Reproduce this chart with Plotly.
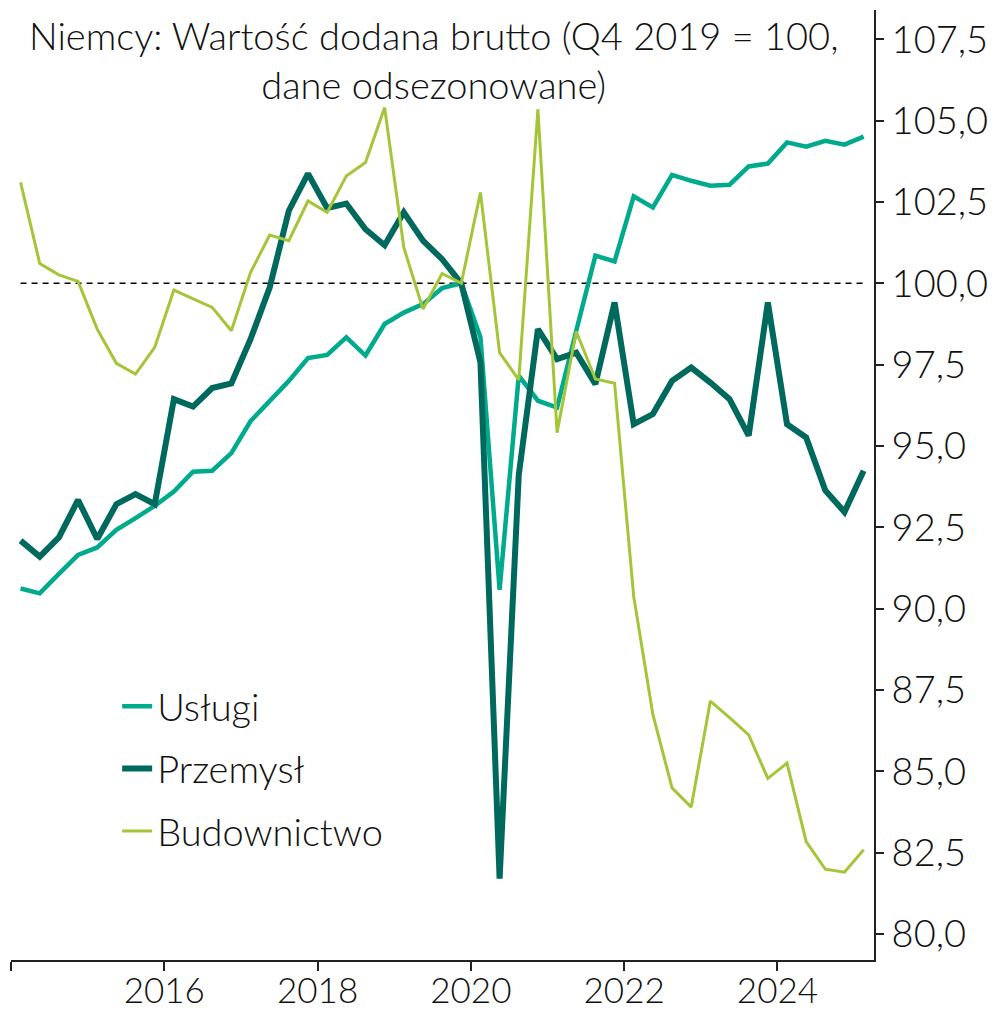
import plotly.graph_objects as go

quarters = [f"{y}Q{q}" for y in range(2014, 2026) for q in range(1, 5)][:45]

uslugi = [90.62, 90.47, 91.07, 91.65, 91.88, 92.42, 92.78, 93.16, 93.60, 94.21, 94.24, 94.78,
          95.76, 96.39, 97.00, 97.70, 97.80, 98.34, 97.78, 98.75, 99.10, 99.36, 99.85, 100.0,
          98.34, 90.58, 97.16, 96.39, 96.18, 98.54, 100.85, 100.67, 102.67, 102.33, 103.33, 103.15,
          103.0, 103.03, 103.59, 103.68, 104.33, 104.20, 104.38, 104.26, 104.51]

przemysl = [92.09, 91.60, 92.19, 93.34, 92.14, 93.21, 93.52, 93.21, 96.44, 96.21, 96.78, 96.92,
            98.28, 99.87, 102.23, 103.37, 102.31, 102.45, 101.66, 101.17, 102.18, 101.31, 100.74, 100.0,
            97.57, 81.70, 94.11, 98.59, 97.67, 97.87, 96.90, 99.41, 95.67, 95.98, 97.00, 97.41,
            96.95, 96.44, 95.32, 99.41, 95.67, 95.26, 93.63, 92.97, 94.24]

budownictwo = [103.10, 100.61, 100.26, 100.06, 98.59, 97.54, 97.21, 98.03, 99.79, 99.53, 99.26, 98.54,
               100.33, 101.48, 101.31, 102.53, 102.18, 103.30, 103.71, 105.40, 101.10, 99.21, 100.30, 100.0,
               102.79, 97.87, 97.03, 105.35, 95.41, 98.52, 97.06, 96.93, 90.37, 86.75, 84.49, 83.90,
               87.16, 86.65, 86.12, 84.78, 85.25, 82.84, 81.99, 81.90, 82.59]

baseline = [100.0] * len(quarters)

year_ticks = [2014, 2016, 2018, 2020, 2022, 2024]
year_labels = ["", "2016", "2018", "2020", "2022", "2024"]
y_ticks = [80, 82.5, 85, 87.5, 90, 92.5, 95, 97.5, 100, 102.5, 105, 107.5]

def qx(label):
    y, q = label.split("Q")
    return int(y) + (int(q) - 1) * 0.25 + 0.125

x = [qx(q) for q in quarters]

FONT = "Lato"
C_USL = "#00AA8D"
C_PRZ = "#00695E"
C_BUD = "#A5C539"
TXT = "#111111"

fig = go.Figure()
fig.add_trace(go.Scatter(x=x, y=baseline, mode="lines", showlegend=False, hoverinfo="skip",
                         line=dict(color="black", width=1.5, dash="6px,5px")))
fig.add_trace(go.Scatter(x=x, y=uslugi, mode="lines", name="Usługi", legendgroup="a",
                         line=dict(color=C_USL, width=4.5)))
fig.add_trace(go.Scatter(x=x, y=przemysl, mode="lines", name="Przemysł", legendgroup="b",
                         line=dict(color=C_PRZ, width=6)))
fig.add_trace(go.Scatter(x=x, y=budownictwo, mode="lines", name="Budownictwo", legendgroup="c",
                         line=dict(color=C_BUD, width=3)))

fig.update_layout(
    width=989, height=1004,
    margin=dict(l=3, r=123, t=2, b=52, autoexpand=False),
    paper_bgcolor="white", plot_bgcolor="white",
    separators=", ",
    font=dict(family=FONT, size=36, color=TXT, weight=300),
    showlegend=True,
    legend=dict(x=0.123, y=0.3, xanchor="left", yanchor="top", bgcolor="rgba(0,0,0,0)",
                font=dict(size=38, weight=300), tracegroupgap=10, itemwidth=30),
    xaxis=dict(range=[2014.0, 2025.26], tickvals=year_ticks, ticktext=year_labels,
               automargin=False,
               showgrid=False, zeroline=False, showline=True, linecolor="#222", linewidth=2,
               ticks="outside", ticklen=9, tickwidth=2, tickcolor="#222",
               ticklabelstandoff=-10,
               tickfont=dict(size=35, weight=300)),
    yaxis=dict(side="right", range=[79.2, 108.4], tickvals=y_ticks, tickformat=".1f",
               automargin=False,
               showgrid=False, zeroline=False, showline=True, linecolor="#222", linewidth=2,
               ticks="outside", ticklen=8, tickwidth=2, tickcolor="#222",
               tickfont=dict(size=38, weight=300)),
    annotations=[dict(text="Niemcy: Wartość dodana brutto (Q4 2019 = 100,<br>dane odsezonowane)",
                      xref="paper", yref="paper", x=0.49, y=1.0, yanchor="top", xanchor="center",
                      showarrow=False, yshift=0,
                      font=dict(size=38, family=FONT, color=TXT, weight=300))],
)

fig.write_html("out.html")
